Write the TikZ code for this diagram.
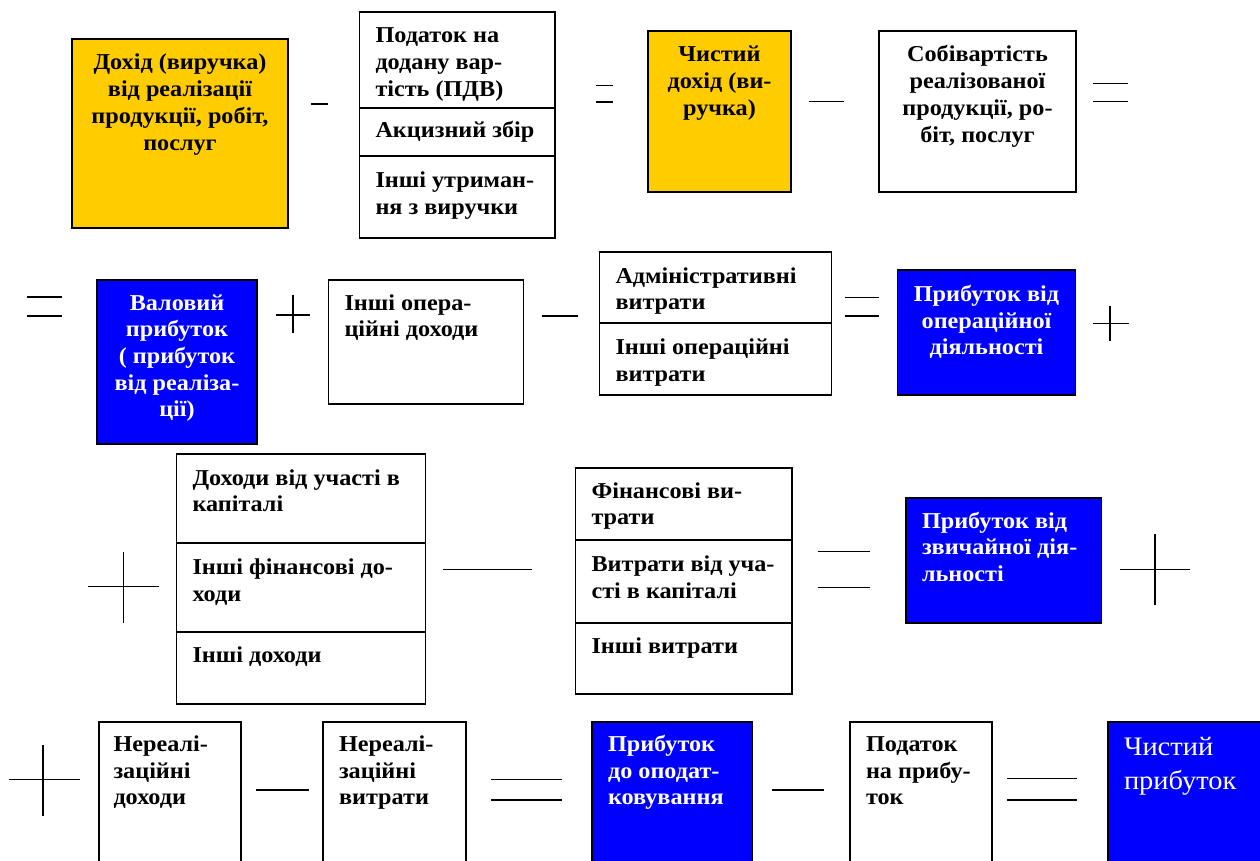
\documentclass[tikz,border=0pt]{standalone}
\usepackage{fontspec}
\setmainfont{Liberation Serif}[FakeStretch=1.066]
\definecolor{gold}{HTML}{FFCC00}
\definecolor{royal}{HTML}{0000FF}
% Cell body: width, height, first baseline offset, alignment, text
\newcommand\boxtext[5]{%
  \parbox[t][#2pt][t]{#1pt}{#4\vspace*{\dimexpr#3pt-\ht\strutbox\relax}\strut#5}}
\newcommand\ctr{\centering}
\newcommand\lft{\raggedright\leftskip=16pt\relax}
\tikzset{
  cell/.style={draw, line width=1.5pt, inner sep=0pt, outer sep=0pt, anchor=north west},
  whitebox/.style={cell, fill=white},
  goldbox/.style={cell, fill=gold},
  bluebox/.style={cell, fill=royal, text=white},
  oper/.style={line width=1.5pt},
}
\begin{document}
\begin{tikzpicture}[x=1pt, y=-1pt, font=\fontsize{22.7}{26.7}\selectfont\bfseries]
\useasboundingbox (0,0) rectangle (1260,861);
\fill[white] (0,0) rectangle (1260,861);
\clip (0,0) rectangle (1260,861);

% ---- row 1: net revenue and cost of sales
\node[goldbox] (rev) at (72,39)
  {\boxtext{216}{189}{31}{\ctr}{Дохід (виручка)\\від реалізації\\продукції, робіт,\\послуг}};
\node[whitebox] (vat) at (359.5,12)
  {\boxtext{195.5}{96}{31}{\lft}{Податок на\\додану вар-\\тість (ПДВ)}};
\node[whitebox] (excise) at (359.5,108)
  {\boxtext{195.5}{48}{30}{\lft}{Акцизний збір}};
\node[whitebox] (deduct) at (359.5,156)
  {\boxtext{195.5}{82}{32}{\lft}{Інші утриман-\\ня з виручки}};
\node[goldbox] (netrev) at (648,31)
  {\boxtext{143}{161}{31}{\ctr}{Чистий\\дохід (ви-\\ручка)}};
\node[whitebox] (cost) at (879,31)
  {\boxtext{197}{161}{31}{\ctr}{Собівартість\\реалізованої\\продукції, ро-\\біт, послуг}};

\draw[oper] (311,104) -- (328,104);
\draw[oper] (596,85.7) -- (612.5,85.7) (596,102) -- (612.5,102);
\draw[oper] (809,101.7) -- (843.6,101.7);
\draw[oper] (1093,83.5) -- (1128,83.5) (1093,101.7) -- (1128,101.7);

% ---- row 2: operating profit
\draw[oper] (26.5,297) -- (62,297) (26.5,316) -- (62,316);
\node[bluebox] (gross) at (97,280)
  {\boxtext{160}{164}{30}{\ctr}{Валовий\\прибуток\\( прибуток\\від реаліза-\\ції)}};
\draw[oper] (275.5,315) -- (310,315) (293,295) -- (293,333);
\node[whitebox] (othinc) at (328.5,280)
  {\boxtext{195}{124}{30}{\lft}{Інші опера-\\ційні доходи}};
\draw[oper] (542,316) -- (577.5,316);
\node[whitebox] (admin) at (599.5,252)
  {\boxtext{232}{71}{31}{\lft}{Адміністративні\\витрати}};
\node[whitebox] (othexp) at (599.5,323)
  {\boxtext{232}{72}{31.5}{\lft}{Інші операційні\\витрати}};
\draw[oper] (844.5,297.3) -- (879,297.3) (844.5,316) -- (879,316);
\node[bluebox] (opprofit) at (897.5,270)
  {\boxtext{178}{125}{31.5}{\ctr}{Прибуток від\\операційної\\діяльності}};
\draw[oper] (1093,323.3) -- (1128.6,323.3) (1110,306) -- (1110,341);

% ---- row 3: profit from ordinary activities
\draw[oper] (87.7,586.7) -- (159,586.7) (123.6,552) -- (123.6,622.7);
\node[whitebox] (capinc) at (176.5,454)
  {\boxtext{249}{89}{31}{\lft}{Доходи від участі в\\капіталі}};
\node[whitebox] (fininc) at (176.5,543)
  {\boxtext{249}{89}{31.5}{\lft}{Інші фінансові до-\\ходи}};
\node[whitebox] (othrev) at (176.5,632)
  {\boxtext{249}{72}{30.5}{\lft}{Інші доходи}};
\draw[oper] (443,569.3) -- (532.4,569.3);
\node[whitebox] (finexp) at (575.5,468)
  {\boxtext{216.5}{72}{30}{\lft}{Фінансові ви-\\трати}};
\node[whitebox] (capexp) at (575.5,540)
  {\boxtext{216.5}{83}{31.5}{\lft}{Витрати від уча-\\сті в капіталі}};
\node[whitebox] (othcost) at (575.5,623)
  {\boxtext{216.5}{71}{30.5}{\lft}{Інші витрати}};
\draw[oper] (817.6,551.7) -- (870,551.7) (817.6,587.3) -- (870,587.3);
\node[bluebox] (ordprofit) at (906,498)
  {\boxtext{195.5}{125}{30}{\lft}{Прибуток від\\звичайної дія-\\льності}};
\draw[oper] (1120,569.3) -- (1189.5,569.3) (1155,534) -- (1155,605);

% ---- row 4: net profit
\draw[oper] (9,779.3) -- (80.4,779.3) (42.9,745) -- (42.9,816);
\node[whitebox] (extinc) at (99,722)
  {\boxtext{142}{200}{29.5}{\raggedright\leftskip=14.5pt\relax}{Нереалі-\\заційні\\доходи}};
\draw[oper] (256,790) -- (309,790);
\node[whitebox] (extexp) at (323,722)
  {\boxtext{143}{200}{29.5}{\lft}{Нереалі-\\заційні\\витрати}};
\draw[oper] (491,779.3) -- (562.4,779.3) (491,800) -- (562.4,800);
\node[bluebox] (pretax) at (592,722)
  {\boxtext{160.5}{200}{29.5}{\lft}{Прибуток\\до оподат-\\ковування}};
\draw[oper] (772,790) -- (824,790);
\node[whitebox] (tax) at (850,722)
  {\boxtext{142}{200}{29.5}{\lft}{Податок\\на прибу-\\ток}};
\draw[oper] (1007,778.3) -- (1077,778.3) (1007,800) -- (1077,800);
\node[bluebox, font=\fontsize{26.7}{34}\selectfont\mdseries] (netprofit) at (1108,722)
  {\boxtext{200}{200}{33.7}{\lft}{Чистий\\прибуток}};
\end{tikzpicture}
\end{document}
